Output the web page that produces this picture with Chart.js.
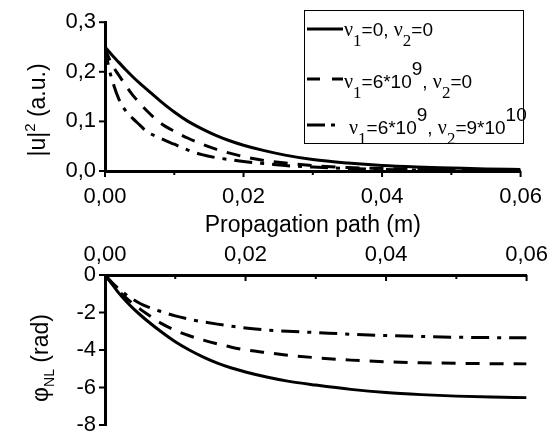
<!DOCTYPE html>
<html>
<head>
<meta charset="utf-8">
<script src="https://cdn.jsdelivr.net/npm/chart.js@4.4.1/dist/chart.umd.min.js"></script>
<style>
  html, body { margin: 0; padding: 0; background: #fff; }
  #wrap { position: relative; width: 555px; height: 432px; overflow: hidden; }
  canvas { position: absolute; left: 0; }
  #intensityChart { top: 0; }
  #phaseChart { top: 240px; }
</style>
</head>
<body>
<div id="wrap">
  <canvas id="intensityChart" width="555" height="245"></canvas>
  <canvas id="phaseChart" width="555" height="192"></canvas>
</div>
<script>
  // propagation distance (m)
  const pathX = [0, 0.0005, 0.001, 0.002, 0.003, 0.004, 0.005, 0.006, 0.008, 0.010,
    0.012, 0.014, 0.016, 0.018, 0.020, 0.023, 0.026, 0.030, 0.035, 0.040,
    0.045, 0.050, 0.055, 0.060];

  // |u|^2 (a.u.)
  const intensityNoLoss = [0.250, 0.242, 0.234, 0.219, 0.204, 0.190, 0.177, 0.165, 0.141, 0.119,
    0.100, 0.085, 0.072, 0.061, 0.052, 0.041, 0.032, 0.023, 0.016, 0.011,
    0.008, 0.006, 0.004, 0.003];
  const intensityLinLoss = [0.250, 0.230, 0.215, 0.193, 0.172, 0.153, 0.137, 0.122, 0.097, 0.080,
    0.066, 0.054, 0.044, 0.036, 0.029, 0.021, 0.016, 0.011, 0.007, 0.005,
    0.003, 0.002, 0.002, 0.001];
  const intensityBothLoss = [0.250, 0.212, 0.185, 0.145, 0.121, 0.106, 0.093, 0.080, 0.066, 0.054,
    0.042, 0.033, 0.027, 0.023, 0.019, 0.015, 0.011, 0.008, 0.005, 0.003,
    0.002, 0.002, 0.001, 0.001];

  // nonlinear phase (rad)
  const phaseNoLoss = [0, -0.24, -0.48, -0.98, -1.40, -1.78, -2.12, -2.44, -3.03, -3.56,
    -4.00, -4.38, -4.70, -4.96, -5.17, -5.44, -5.66, -5.87, -6.10, -6.27,
    -6.38, -6.46, -6.51, -6.54];
  const phaseLinLoss = [0, -0.23, -0.45, -0.86, -1.22, -1.53, -1.82, -2.08, -2.58, -2.95,
    -3.24, -3.47, -3.67, -3.85, -3.99, -4.14, -4.28, -4.41, -4.54, -4.63,
    -4.68, -4.71, -4.73, -4.74];
  const phaseBothLoss = [0, -0.20, -0.40, -0.75, -1.05, -1.30, -1.52, -1.69, -1.95, -2.18,
    -2.36, -2.50, -2.62, -2.73, -2.83, -2.93, -3.00, -3.07, -3.16, -3.23,
    -3.28, -3.32, -3.34, -3.35];

  const SANS = "Arial, 'Liberation Sans', sans-serif";
  const SERIF = "'Liberation Serif', 'Times New Roman', serif";
  const DASHED = [14, 10];
  const DASH_DOT = [18, 8, 4, 8];

  const toPoints = ys => pathX.map((x, i) => ({ x: x, y: ys[i] }));
  const comma = (v, d) => v.toFixed(d).replace(".", ",");

  function lineSet(label, ys, dash) {
    return {
      label: label,
      data: toPoints(ys),
      borderColor: "#000",
      borderWidth: 3,
      borderDash: dash,
      pointRadius: 0,
      cubicInterpolationMode: "monotone",
      fill: false
    };
  }

  // text made of pieces: [text, size, baseline shift, family]
  function richWidth(ctx, parts) {
    let w = 0;
    for (const [t, size, , fam] of parts) {
      ctx.font = size + "px " + (fam || SANS);
      w += ctx.measureText(t).width;
    }
    return w;
  }
  function drawRich(ctx, x, y, parts) {
    let cx = x;
    ctx.textAlign = "left";
    ctx.textBaseline = "alphabetic";
    for (const [t, size, dy, fam] of parts) {
      ctx.font = size + "px " + (fam || SANS);
      ctx.fillText(t, cx, y + (dy || 0));
      cx += ctx.measureText(t).width;
    }
  }
  function drawRotated(ctx, cx, cy, parts) {
    ctx.save();
    ctx.translate(cx, cy);
    ctx.rotate(-Math.PI / 2);
    drawRich(ctx, -richWidth(ctx, parts) / 2, 8, parts);
    ctx.restore();
  }

  // short tick marks, major where a label is shown
  const tickMarks = {
    id: "tickMarks",
    afterDraw(chart) {
      const ctx = chart.ctx;
      ctx.save();
      ctx.strokeStyle = "#000";
      ctx.lineWidth = 2;
      for (const scale of Object.values(chart.scales)) {
        for (const t of scale.ticks) {
          const len = t.label !== "" ? 6 : 4;
          const p = scale.getPixelForValue(t.value);
          ctx.beginPath();
          if (scale.isHorizontal()) {
            const y0 = scale.position === "top" ? scale.bottom : scale.top;
            ctx.moveTo(p, y0);
            ctx.lineTo(p, y0 + len);
          } else {
            ctx.moveTo(scale.right, p);
            ctx.lineTo(scale.right - len, p);
          }
          ctx.stroke();
        }
      }
      ctx.restore();
    }
  };

  const sideLabels = {
    id: "sideLabels",
    afterDraw(chart, args, opts) {
      const ctx = chart.ctx;
      ctx.save();
      ctx.fillStyle = "#000";
      drawRotated(ctx, opts.x, opts.y, opts.parts);
      ctx.restore();
    }
  };

  const legendRows = [
    { dash: [], y: 29, x: 344, base: 36, parts: [["ν", 20, 0, SERIF], ["1", 17, 10, SERIF], ["=0, ", 19], ["ν", 20, 0, SERIF], ["2", 17, 10, SERIF], ["=0", 19]] },
    { dash: [13, 12], y: 79, x: 344, base: 88, parts: [["ν", 20, 0, SERIF], ["1", 17, 10, SERIF], ["=6*10", 19], ["9", 19, -13], [", ", 19], ["ν", 20, 0, SERIF], ["2", 17, 10, SERIF], ["=0", 19]] },
    { dash: [18, 6, 4, 30], y: 125, x: 349, base: 134, parts: [["ν", 20, 0, SERIF], ["1", 17, 10, SERIF], ["=6*10", 19], ["9", 19, -13], [", ", 19], ["ν", 20, 0, SERIF], ["2", 17, 10, SERIF], ["=9*10", 19], ["10", 19, -13]] }
  ];

  const boxLegend = {
    id: "boxLegend",
    afterDraw(chart) {
      const ctx = chart.ctx;
      ctx.save();
      ctx.fillStyle = "#fff";
      ctx.fillRect(304, 10, 220, 134);
      ctx.strokeStyle = "#000";
      ctx.lineWidth = 1;
      ctx.strokeRect(304.5, 10.5, 219, 133);
      for (const row of legendRows) {
        ctx.beginPath();
        ctx.lineWidth = 3;
        ctx.setLineDash(row.dash);
        ctx.moveTo(307, row.y);
        ctx.lineTo(343, row.y);
        ctx.stroke();
        ctx.setLineDash([]);
        ctx.fillStyle = "#000";
        drawRich(ctx, row.x, row.base, row.parts);
      }
      ctx.restore();
    }
  };

  const tickFont = { family: SANS, size: 22 };

  new Chart(document.getElementById("intensityChart"), {
    type: "line",
    data: {
      datasets: [
        lineSet("ν1=0, ν2=0", intensityNoLoss, []),
        lineSet("ν1=6*10^9, ν2=0", intensityLinLoss, DASHED),
        lineSet("ν1=6*10^9, ν2=9*10^10", intensityBothLoss, DASH_DOT)
      ]
    },
    options: {
      responsive: false,
      animation: false,
      layout: { padding: { left: 0, right: 28, top: 21, bottom: 0 } },
      plugins: {
        legend: { display: false },
        tooltip: { enabled: false },
        sideLabels: { x: 37, y: 110, parts: [["|u|", 23], ["2", 15, -10], [" (a.u.)", 23]] }
      },
      scales: {
        x: {
          type: "linear",
          position: "bottom",
          min: 0,
          max: 0.06,
          grid: { display: false, drawTicks: false },
          border: { display: true, width: 3, color: "#000" },
          ticks: {
            stepSize: 0.01,
            padding: 13,
            color: "#000",
            font: tickFont,
            maxRotation: 0,
            callback: v => Math.round(v * 100) % 2 === 0 ? comma(v, 2) : ""
          },
          title: {
            display: true,
            text: "Propagation path (m)",
            color: "#000",
            font: { family: SANS, size: 23 },
            padding: { top: 0, bottom: 6 }
          },
          afterFit: s => { s.height = 74; }
        },
        y: {
          min: 0,
          max: 0.3,
          grid: { display: false, drawTicks: false },
          border: { display: true, width: 3, color: "#000" },
          ticks: {
            stepSize: 0.05,
            padding: 9,
            color: "#000",
            font: tickFont,
            callback: v => Math.round(v * 100) % 10 === 0 ? comma(v, 1) : ""
          },
          afterFit: s => { s.width = 105; }
        }
      }
    },
    plugins: [tickMarks, sideLabels, boxLegend]
  });

  new Chart(document.getElementById("phaseChart"), {
    type: "line",
    data: {
      datasets: [
        lineSet("ν1=0, ν2=0", phaseNoLoss, []),
        lineSet("ν1=6*10^9, ν2=0", phaseLinLoss, DASHED),
        lineSet("ν1=6*10^9, ν2=9*10^10", phaseBothLoss, DASH_DOT)
      ]
    },
    options: {
      responsive: false,
      animation: false,
      layout: { padding: { left: 0, right: 28, top: 0, bottom: 7 } },
      plugins: {
        legend: { display: false },
        tooltip: { enabled: false },
        sideLabels: { x: 40, y: 118, parts: [["φ", 23], ["NL", 14, 6], [" (rad)", 23]] }
      },
      scales: {
        x: {
          type: "linear",
          position: "top",
          min: 0,
          max: 0.06,
          grid: { display: false, drawTicks: false },
          border: { display: true, width: 3, color: "#000" },
          ticks: {
            stepSize: 0.01,
            padding: 7,
            color: "#000",
            font: tickFont,
            maxRotation: 0,
            callback: v => Math.round(v * 100) % 2 === 0 ? comma(v, 2) : ""
          },
          afterFit: s => { s.height = 35; }
        },
        y: {
          min: -8,
          max: 0,
          grid: { display: false, drawTicks: false },
          border: { display: true, width: 3, color: "#000" },
          ticks: {
            stepSize: 1,
            padding: 9,
            color: "#000",
            font: tickFont,
            callback: v => v % 2 === 0 ? String(v) : ""
          },
          afterFit: s => { s.width = 105; s.paddingTop = 0; s.paddingBottom = 0; }
        }
      }
    },
    plugins: [tickMarks, sideLabels]
  });
</script>
</body>
</html>
